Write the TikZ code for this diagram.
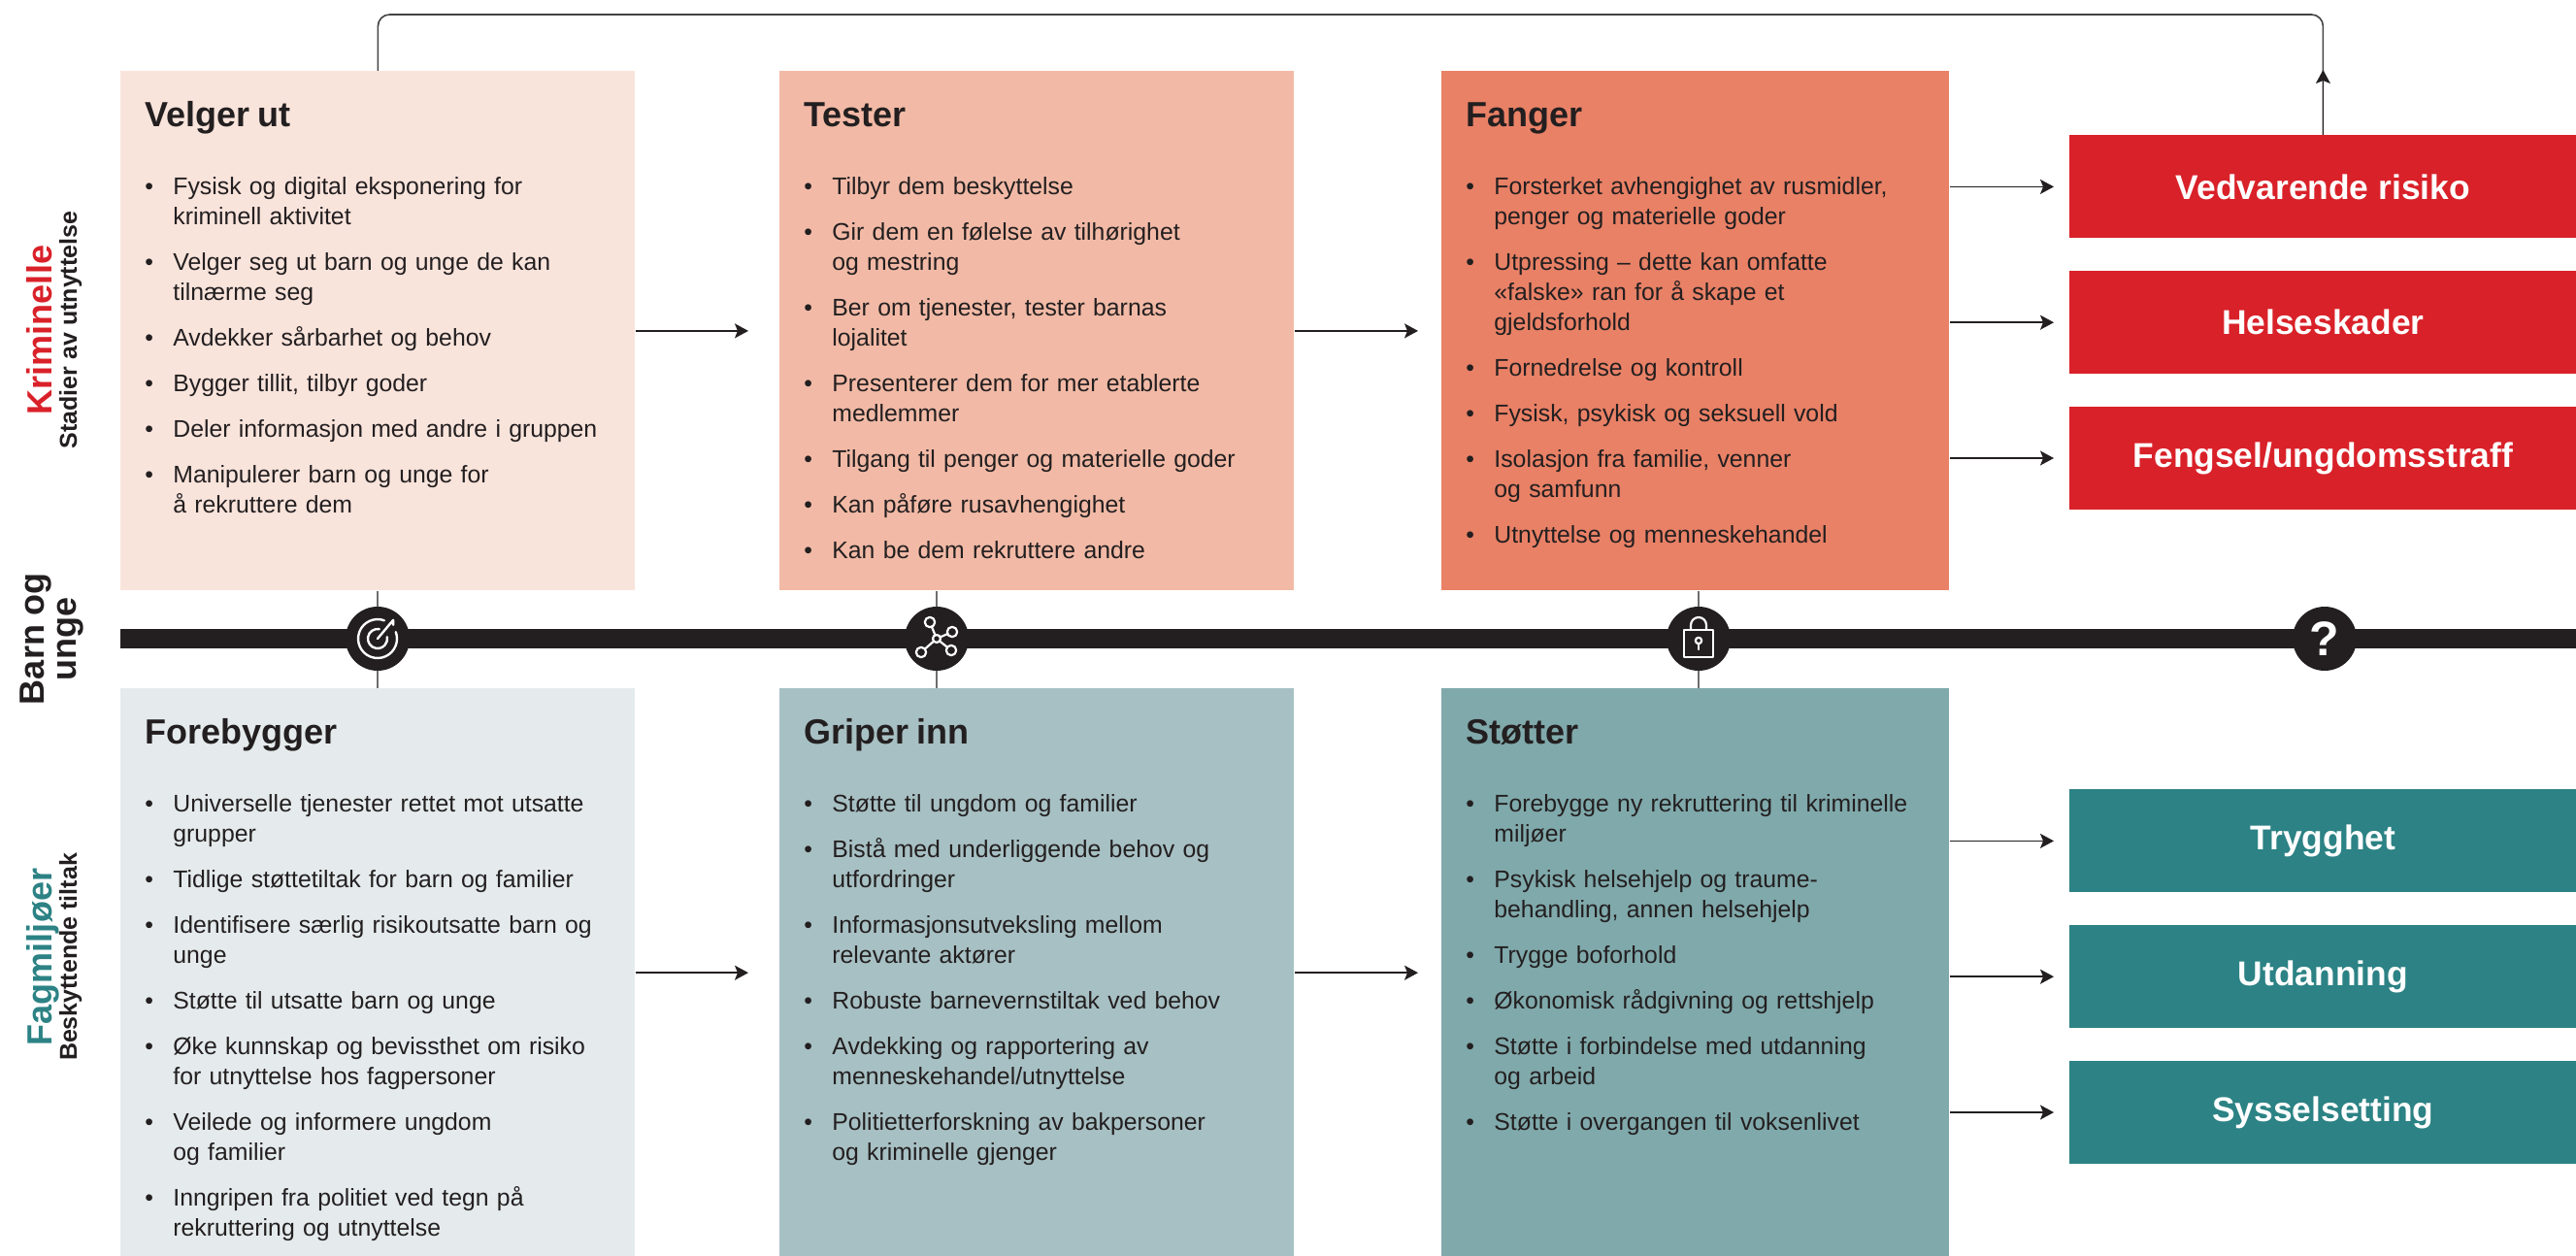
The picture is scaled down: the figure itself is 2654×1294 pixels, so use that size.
\documentclass[tikz,border=0pt]{standalone}
\usepackage{fontspec}
\setmainfont{Liberation Sans}
\usepackage{enumitem}
\usetikzlibrary{positioning,arrows.meta}
\definecolor{ink}{HTML}{231F20}
\definecolor{velgerfill}{HTML}{F9E4DC}
\definecolor{testerfill}{HTML}{F2BAA6}
\definecolor{fangerfill}{HTML}{E98166}
\definecolor{krimred}{HTML}{D92129}
\definecolor{forebyggerfill}{HTML}{E5EBEC}
\definecolor{griperfill}{HTML}{A7C0C3}
\definecolor{stotterfill}{HTML}{80A9AB}
\definecolor{fagteal}{HTML}{2C8284}
\definecolor{linkgray}{HTML}{6E6E6E}
\setlength{\parskip}{0pt}
\setlist[itemize]{label=\textbullet, leftmargin=14.5pt, labelwidth=4.5pt, labelsep=10pt, align=left, topsep=0pt, partopsep=0pt, parsep=0pt, itemsep=8pt}
\newcommand{\stagetitle}[1]{{\fontsize{18}{20}\selectfont\bfseries\strut #1\par}\vspace{19.5pt}}
\begin{document}
\begin{tikzpicture}[x=0.5pt, y=-0.5pt, line join=round, >={Stealth[length=7pt,width=7.5pt,inset=1.5pt]},
  stage/.style={anchor=north west, minimum width=265pt, minimum height=267.5pt, inner sep=0pt},
  stagetext/.style={anchor=north west, inner sep=0pt, text width=250pt, align=left, text=ink, font=\fontsize{12.4}{15.5}\selectfont},
  outcome/.style={anchor=north west, minimum width=261pt, minimum height=53pt, inner sep=0pt, text=white, font=\fontsize{17.7}{20}\selectfont\bfseries},
  flow/.style={->, ink, line width=0.75pt},
  link/.style={linkgray, line width=0.8pt},
  icon/.style={circle, fill=ink, minimum size=33pt, inner sep=0pt},
  glyph/.style={white, line width=1.2pt, line cap=round},
  side/.style={rotate=90, anchor=base, inner sep=0pt, text=ink}]
\useasboundingbox (0,0) rectangle (2654,1294);

% stages, criminals
\node[stage, fill=velgerfill] (velger) at (124,73) {};
\node[stage, fill=testerfill] (tester) at (803,73) {};
\node[stage, fill=fangerfill, minimum width=261.5pt] (fanger) at (1485,73) {};
% stages, professionals
\node[stage, fill=forebyggerfill, minimum height=293pt, below=50pt of velger] (forebygger) {};
\node[stage, fill=griperfill, minimum height=293pt, below=50pt of tester] (griper) {};
\node[stage, fill=stotterfill, minimum height=293pt, minimum width=261.5pt, below=50pt of fanger] (stotter) {};

\node[stagetext, below right=14.5pt and 12.5pt of velger.north west] (velgertxt) {\stagetitle{Velger ut}
\begin{itemize}
\item Fysisk og digital eksponering for\newline kriminell aktivitet
\item Velger seg ut barn og unge de kan\newline tilnærme seg
\item Avdekker sårbarhet og behov
\item Bygger tillit, tilbyr goder
\item Deler informasjon med andre i gruppen
\item Manipulerer barn og unge for\newline å rekruttere dem
\end{itemize}};
\node[stagetext, below right=14.5pt and 12.5pt of tester.north west] (testertxt) {\stagetitle{Tester}
\begin{itemize}
\item Tilbyr dem beskyttelse
\item Gir dem en følelse av tilhørighet\newline og mestring
\item Ber om tjenester, tester barnas\newline lojalitet
\item Presenterer dem for mer etablerte\newline medlemmer
\item Tilgang til penger og materielle goder
\item Kan påføre rusavhengighet
\item Kan be dem rekruttere andre
\end{itemize}};
\node[stagetext, below right=14.5pt and 12.5pt of fanger.north west] (fangertxt) {\stagetitle{Fanger}
\begin{itemize}
\item Forsterket avhengighet av rusmidler,\newline penger og materielle goder
\item Utpressing – dette kan omfatte\newline «falske» ran for å skape et\newline gjeldsforhold
\item Fornedrelse og kontroll
\item Fysisk, psykisk og seksuell vold
\item Isolasjon fra familie, venner\newline og samfunn
\item Utnyttelse og menneskehandel
\end{itemize}};
\node[stagetext, below right=14.5pt and 12.5pt of forebygger.north west] (forebyggertxt) {\stagetitle{Forebygger}
\begin{itemize}
\item Universelle tjenester rettet mot utsatte\newline grupper
\item Tidlige støttetiltak for barn og familier
\item Identifisere særlig risikoutsatte barn og\newline unge
\item Støtte til utsatte barn og unge
\item Øke kunnskap og bevissthet om risiko\newline for utnyttelse hos fagpersoner
\item Veilede og informere ungdom\newline og familier
\item Inngripen fra politiet ved tegn på\newline rekruttering og utnyttelse
\end{itemize}};
\node[stagetext, below right=14.5pt and 12.5pt of griper.north west] (gripertxt) {\stagetitle{Griper inn}
\begin{itemize}
\item Støtte til ungdom og familier
\item Bistå med underliggende behov og\newline utfordringer
\item Informasjonsutveksling mellom\newline relevante aktører
\item Robuste barnevernstiltak ved behov
\item Avdekking og rapportering av\newline menneskehandel/utnyttelse
\item Politietterforskning av bakpersoner\newline og kriminelle gjenger
\end{itemize}};
\node[stagetext, below right=14.5pt and 12.5pt of stotter.north west] (stottertxt) {\stagetitle{Støtter}
\begin{itemize}
\item Forebygge ny rekruttering til kriminelle\newline miljøer
\item Psykisk helsehjelp og traume-\newline behandling, annen helsehjelp
\item Trygge boforhold
\item Økonomisk rådgivning og rettshjelp
\item Støtte i forbindelse med utdanning\newline og arbeid
\item Støtte i overgangen til voksenlivet
\end{itemize}};

% outcomes
\node[outcome, fill=krimred] (risiko) at (2132,139) {Vedvarende risiko};
\node[outcome, fill=krimred, below=16.5pt of risiko] (helse) {Helseskader};
\node[outcome, fill=krimred, below=16.5pt of helse] (fengsel) {Fengsel/ungdomsstraff};
\node[outcome, fill=fagteal] (trygghet) at (2132,813) {Trygghet};
\node[outcome, fill=fagteal, below=16.5pt of trygghet] (utdanning) {Utdanning};
\node[outcome, fill=fagteal, below=16.5pt of utdanning] (arbeid) {Sysselsetting};

% arrows
\draw[flow, shorten >=16pt] (velger) -- (tester);
\draw[flow, shorten >=12pt] (tester) -- (fanger);
\draw[flow, shorten >=16pt] (forebygger) -- (griper);
\draw[flow, shorten >=12pt] (griper) -- (stotter);
\foreach \o in {risiko, helse, fengsel}
  \draw[flow, shorten >=8pt] (fanger.east |- \o) -- (\o);
\foreach \o in {trygghet, utdanning, arbeid}
  \draw[flow, shorten >=8pt] (stotter.east |- \o) -- (\o);

% back loop
\coordinate (looptop) at (1400,15);
\draw[ink!85, line width=0.8pt, rounded corners=6pt] (risiko.north) |- (looptop) -| (velger.north);
\draw[flow] (risiko.north) -- ++(0,33.5pt);

% timeline
\draw[ink, line width=10pt] (124,658) -- (2654,658);
\node[icon] (target) at (389,658) {};
\node[icon] (network) at (965,658) {};
\node[icon] (lock) at (1750,658) {};
\node[icon, text=white, font=\fontsize{25}{25}\selectfont\bfseries] (unknown) at (2395,658) {?};
\foreach \i/\a/\b in {target/velger/forebygger, network/tester/griper, lock/fanger/stotter}{
  \draw[link] (\i) -- (\a.south -| \i);
  \draw[link] (\i) -- (\b.north -| \i);
}
\begin{scope}[shift={(target.center)}, x=1pt, y=1pt, glyph]
  \draw (70:10) arc[start angle=70, end angle=380, radius=10];
  \draw (80:5) arc[start angle=80, end angle=370, radius=5];
  \draw (0,0) -- (50:12.5) -- ++(0,-2.5);
\end{scope}
\begin{scope}[shift={(network.center)}, x=1pt, y=1pt, glyph, line width=1.1pt]
  \draw (0,0) circle (2);
  \foreach \x/\y in {-3.5/8.5, 8/3.5, 7.5/-6, -8/-7}{
    \draw (\x,\y) circle (2.6);
    \draw[shorten <=2pt, shorten >=2.6pt] (0,0) -- (\x,\y);
  }
\end{scope}
\begin{scope}[shift={(lock.center)}, x=1pt, y=1pt, glyph, line width=1.1pt]
  \draw (-7.5,-9.5) rectangle (7.5,4.5);
  \draw (-4,4.5) -- (-4,7) arc[start angle=180, end angle=0, radius=4] -- (4,4.5);
  \draw (0,-1) circle (1.6);
  \draw (0,-2.6) -- (0,-5.5);
\end{scope}

% side labels
\node[side, text=krimred, font=\fontsize{18}{20}\selectfont\bfseries] (krim) at (53,340) {Kriminelle};
\node[side, font=\fontsize{12.5}{15}\selectfont\bfseries] (stadier) at (79,340) {Stadier av utnyttelse};
\node[side, font=\fontsize{18}{20}\selectfont\bfseries] (barn) at (46,658) {Barn og};
\node[side, font=\fontsize{18}{20}\selectfont\bfseries] (unge) at (78,658) {unge};
\node[side, text=fagteal, font=\fontsize{18}{20}\selectfont\bfseries] (fag) at (53,986) {Fagmiljøer};
\node[side, font=\fontsize{12.5}{15}\selectfont\bfseries] (tiltak) at (79,986) {Beskyttende tiltak};
\end{tikzpicture}
\end{document}
